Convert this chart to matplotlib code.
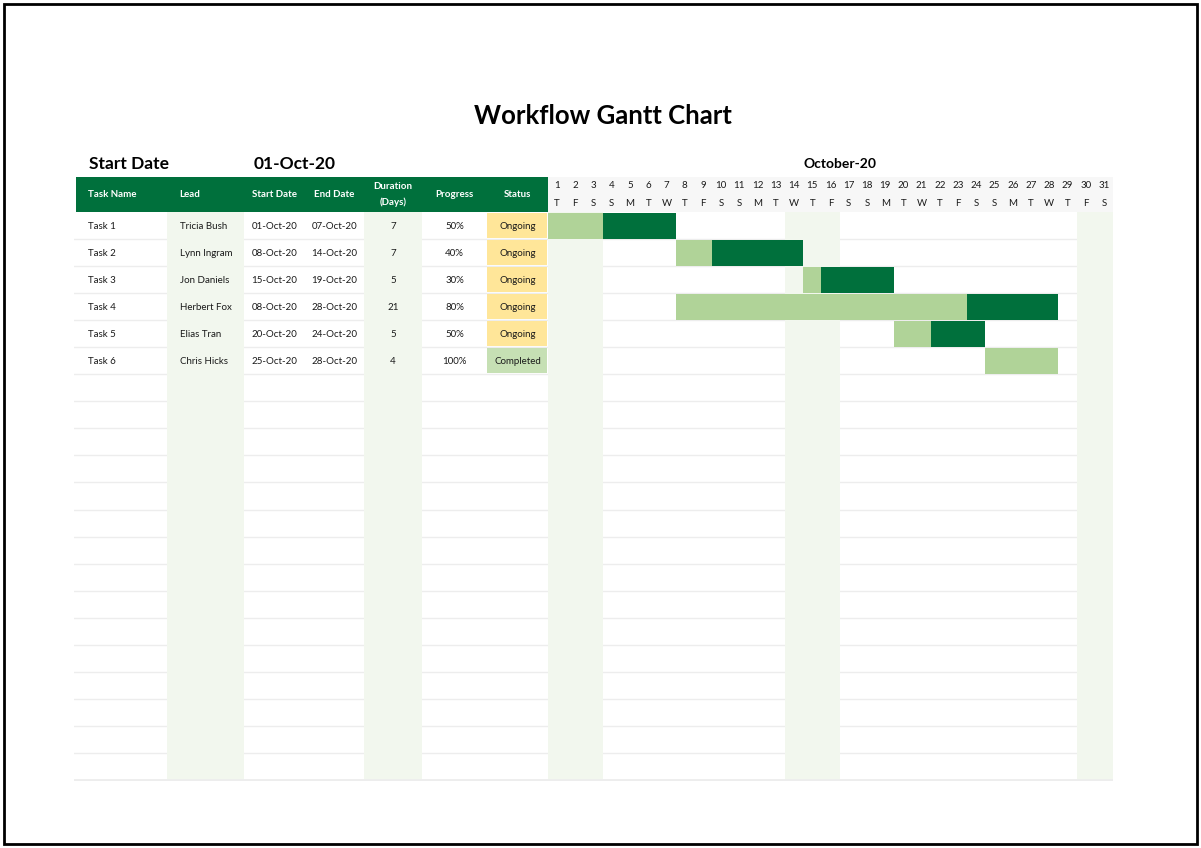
import matplotlib
matplotlib.use("Agg")
import matplotlib.pyplot as plt
from matplotlib.patches import Rectangle

# ---------------- data ----------------
tasks = ["Task 1", "Task 2", "Task 3", "Task 4", "Task 5", "Task 6"]
leads = ["Tricia Bush", "Lynn Ingram", "Jon Daniels", "Herbert Fox", "Elias Tran", "Chris Hicks"]
start_labels = ["01-Oct-20", "08-Oct-20", "15-Oct-20", "08-Oct-20", "20-Oct-20", "25-Oct-20"]
end_labels = ["07-Oct-20", "14-Oct-20", "19-Oct-20", "28-Oct-20", "24-Oct-20", "28-Oct-20"]
start_days = [1, 8, 15, 8, 20, 25]
end_days = [7, 14, 19, 28, 24, 28]
durations = [7, 7, 5, 21, 5, 4]
progress = [50, 40, 30, 80, 50, 100]
status = ["Ongoing", "Ongoing", "Ongoing", "Ongoing", "Ongoing", "Completed"]
done_days = [3, 2, 1, 16, 2, 4]
day_numbers = list(range(1, 32))
weekday_letters = ["T", "F", "S", "S", "M", "T", "W", "T", "F", "S", "S", "M", "T", "W",
                   "T", "F", "S", "S", "M", "T", "W", "T", "F", "S", "S", "M", "T", "W",
                   "T", "F", "S"]
shaded_days = [1, 2, 3, 14, 15, 16, 30, 31]
headers = ["Task Name", "Lead", "Start Date", "End Date", "Duration\n(Days)", "Progress", "Status"]
title = "Workflow Gantt Chart"
start_date_label = "Start Date"
start_date_value = "01-Oct-20"
month_label = "October-20"
n_rows = 21

# ---------------- style ----------------
FONT = "Lato"
GREEN = "#00703C"
LIGHT = "#B0D398"
SHADE = "#F2F7EE"
LINE = "#EDEDED"
HDR_GRAY = "#F7F7F7"
ONGOING = "#FFE699"
COMPLETED = "#C6E0B4"
TXT = "#1A1A1A"

W, H = 1201, 848
fig = plt.figure(figsize=(W / 100, H / 100), dpi=100)


def frac(x0, y0, x1, y1):
    return [x0 / W, 1 - y1 / H, (x1 - x0) / W, (y1 - y0) / H]


# background axes for frame and titles (pixel coords)
bg = fig.add_axes([0, 0, 1, 1])
bg.set_xlim(0, W)
bg.set_ylim(H, 0)
bg.axis("off")
bg.add_patch(Rectangle((4, 4), W - 8, H - 8, fill=False, lw=2, ec="black"))
bg.text(603, 116, title, ha="center", va="center", fontsize=18.5, fontweight="bold",
        family=FONT, color="black")
bg.text(89, 164, start_date_label, ha="left", va="center", fontsize=12.5, fontweight="bold",
        family=FONT, color="black")
bg.text(295, 164, start_date_value, ha="center", va="center", fontsize=12.5, fontweight="bold",
        family=FONT, color="black")
bg.text(840, 164, month_label, ha="center", va="center", fontsize=10, fontweight="bold",
        family=FONT, color="black")

hdr = 35 / 27.0
col_bounds = [76, 167, 244, 305, 364, 422, 487, 548]
shaded_cols = [1, 4]

# ---------------- table axes ----------------
ta = fig.add_axes(frac(74, 177, 548, 781))
ta.set_xlim(74, 548)
ta.set_ylim(n_rows + 0.04, -hdr)
ta.axis("off")

# header
ta.add_patch(Rectangle((col_bounds[0], -hdr), col_bounds[-1] - col_bounds[0], hdr,
                       color=GREEN, lw=0))
for i, h in enumerate(headers):
    x0, x1 = col_bounds[i], col_bounds[i + 1]
    if i < 2:
        ta.text(x0 + 12, -hdr / 2, h, ha="left", va="center", color="white",
                fontsize=7, fontweight="bold", family=FONT)
    else:
        ta.text((x0 + x1) / 2, -hdr / 2, h, ha="center", va="center", color="white",
                fontsize=7, fontweight="bold", family=FONT, linespacing=1.9)

# row lines
for r in range(1, n_rows):
    ta.plot([74, 548], [r, r], color=LINE, lw=1, zorder=1)
ta.plot([74, 548], [n_rows, n_rows], color=LINE, lw=2, zorder=4)

# shaded columns
for c in shaded_cols:
    ta.add_patch(Rectangle((col_bounds[c], 0), col_bounds[c + 1] - col_bounds[c], n_rows,
                           color=SHADE, lw=0, zorder=2))

for r in range(len(tasks)):
    y = r + 0.52
    ta.text(col_bounds[0] + 12, y, tasks[r], ha="left", va="center", fontsize=7,
            family=FONT, color=TXT, zorder=5)
    ta.text(col_bounds[1] + 13, y, leads[r], ha="left", va="center", fontsize=7,
            family=FONT, color=TXT, zorder=5)
    vals = [start_labels[r], end_labels[r], str(durations[r]), f"{progress[r]}%"]
    for k, v in enumerate(vals):
        c = k + 2
        ta.text((col_bounds[c] + col_bounds[c + 1]) / 2, y, v, ha="center", va="center",
                fontsize=7, family=FONT, color=TXT, zorder=5)
    sc = ONGOING if status[r] == "Ongoing" else COMPLETED
    ta.add_patch(Rectangle((col_bounds[6], r + 0.04), col_bounds[7] - col_bounds[6] - 1, 0.92,
                           color=sc, lw=0, zorder=3))
    ta.text((col_bounds[6] + col_bounds[7]) / 2, y, status[r], ha="center", va="center",
            fontsize=7, family=FONT, color=TXT, zorder=5)

# ---------------- gantt axes ----------------
ga = fig.add_axes(frac(548, 177, 1113, 781))
ga.set_xlim(0.5, 31.5)
ga.set_ylim(n_rows + 0.04, -hdr)
ga.axis("off")

ga.add_patch(Rectangle((0.5, -hdr), 31, hdr, color=HDR_GRAY, lw=0))
for d, wl in zip(day_numbers, weekday_letters):
    ga.text(d, -hdr * 0.76, str(d), ha="center", va="center", fontsize=7, family=FONT, color=TXT)
    ga.text(d, -hdr * 0.24, wl, ha="center", va="center", fontsize=7, family=FONT, color=TXT)

for r in range(1, n_rows):
    ga.plot([0.5, 31.5], [r, r], color=LINE, lw=1, zorder=1)
ga.plot([0.5, 31.5], [n_rows, n_rows], color=LINE, lw=2, zorder=4)

ga.bar(shaded_days, [n_rows] * len(shaded_days), width=1.0, bottom=0, color=SHADE,
       lw=0, zorder=2)

rows = list(range(len(tasks)))
ga.barh([r + 0.5 for r in rows], done_days, left=[s - 0.5 for s in start_days], height=0.96,
        color=LIGHT, lw=0, zorder=3)
remaining = [d - k for d, k in zip(durations, done_days)]
ga.barh([r + 0.5 for r in rows], remaining,
        left=[s - 0.5 + k for s, k in zip(start_days, done_days)], height=0.96,
        color=GREEN, lw=0, zorder=3)

fig.savefig("out.png", dpi=100, facecolor="white")
